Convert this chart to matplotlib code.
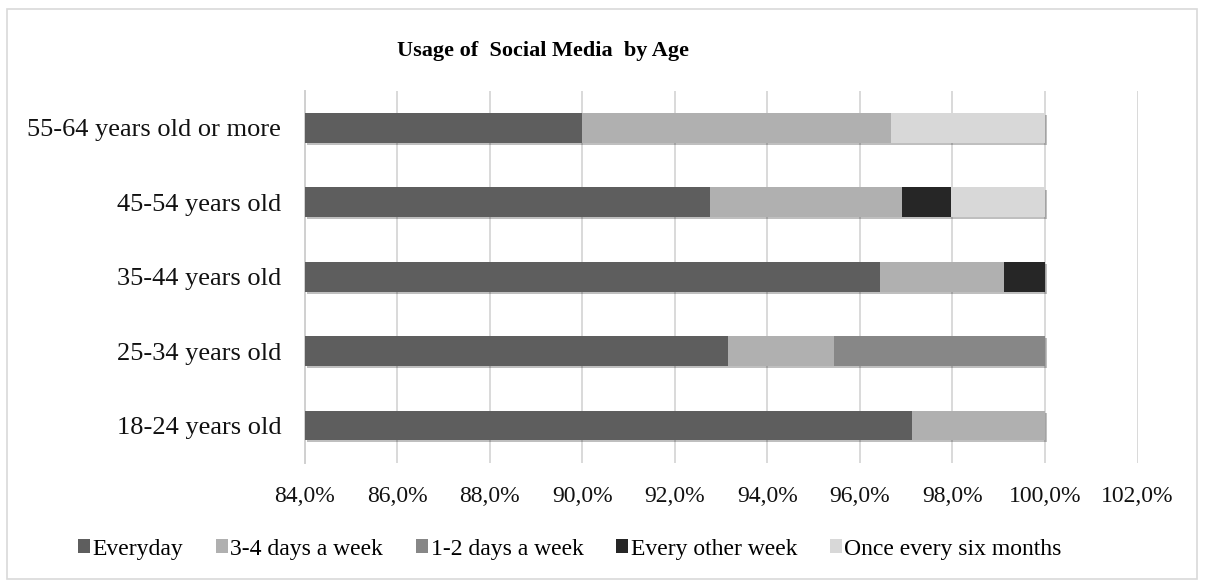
import matplotlib
matplotlib.use("Agg")
import matplotlib.pyplot as plt
import matplotlib.patheffects as pe
from matplotlib.patches import Rectangle, Patch
from matplotlib.ticker import FuncFormatter, MultipleLocator
import numpy as np

plt.rcParams['font.family'] = ['Liberation Serif', 'DejaVu Serif']

# Age groups, bottom to top
age_groups = ["18-24 years old", "25-34 years old", "35-44 years old",
              "45-54 years old", "55-64 years old or more"]

# Share of respondents (%) per usage frequency
everyday        = [97.13, 93.15, 96.44, 92.76, 90.00]
three_four_week = [2.87, 2.29, 2.68, 4.15, 6.67]
one_two_week    = [0.00, 4.56, 0.00, 0.00, 0.00]
every_other_wk  = [0.00, 0.00, 0.88, 1.05, 0.00]
six_months      = [0.00, 0.00, 0.00, 2.04, 3.33]

series_names = ["Everyday", "3-4 days a week", "1-2 days a week",
                "Every other week", "Once every six months"]
series_values = [everyday, three_four_week, one_two_week, every_other_wk, six_months]
series_colors = ["#5e5e5e", "#b0b0b0", "#878787", "#262626", "#d8d8d8"]

x_min, x_max = 84.0, 102.0

fig = plt.figure(figsize=(12.05, 5.82), dpi=100)
ax = fig.add_axes([0.253, 0.205, 0.691, 0.639])

y = np.arange(len(age_groups))
shadow = [pe.SimplePatchShadow(offset=(1.5, -1.5), alpha=0.25, shadow_rgbFace="#000000"),
          pe.Normal()]
# Stack segments by cumulative share; the axis starts at x_min, so the
# first segment is drawn from x_min up to its cumulative end.
ends = np.cumsum(np.array(series_values, dtype=float), axis=0)
starts = np.vstack([np.zeros(len(age_groups)), ends[:-1]])
for name, s, e, col in zip(series_names, starts, ends, series_colors):
    s_clip = np.maximum(s, x_min)
    ax.barh(y, e - s_clip, left=s_clip, height=0.4, color=col, label=name,
            zorder=3, path_effects=shadow)

ax.set_xlim(x_min, x_max)
ax.set_ylim(-0.5, len(age_groups) - 0.5)
ax.xaxis.set_major_locator(MultipleLocator(2))
ax.xaxis.set_major_formatter(FuncFormatter(lambda v, p: f"{v:.1f}%".replace(".", ",")))
ax.set_yticks(y)
ax.set_yticklabels(age_groups)
ax.tick_params(axis='both', length=0, colors="#111111")
ax.tick_params(axis='x', pad=17, labelsize=17)
ax.tick_params(axis='y', pad=17, labelsize=19)
ax.grid(axis='x', color="#d9d9d9", linewidth=1.4, zorder=0)
ax.set_axisbelow(True)
for sp in ["top", "right", "bottom"]:
    ax.spines[sp].set_visible(False)
ax.spines["left"].set_color("#d0d0d0")
ax.spines["left"].set_linewidth(1.4)

fig.text(543 / 1205, 1 - 51 / 582, "Usage of  Social Media  by Age",
         ha="center", va="center", fontsize=16, fontweight="bold")

handles = [Patch(facecolor=c, label=n) for n, c in zip(series_names, series_colors)]
fig.legend(handles=handles, loc="center", bbox_to_anchor=(570 / 1205, 1 - 549 / 582),
           ncol=5, frameon=False, fontsize=17, handlelength=0.5, handleheight=0.5,
           handletextpad=0.1, columnspacing=1.4)

fig.add_artist(Rectangle((7 / 1205, 3 / 582), 1190 / 1205, 570 / 582,
                         transform=fig.transFigure, fill=False,
                         edgecolor="#d9d9d9", linewidth=1.2))

fig.savefig("out.png", dpi=100, facecolor="white")
